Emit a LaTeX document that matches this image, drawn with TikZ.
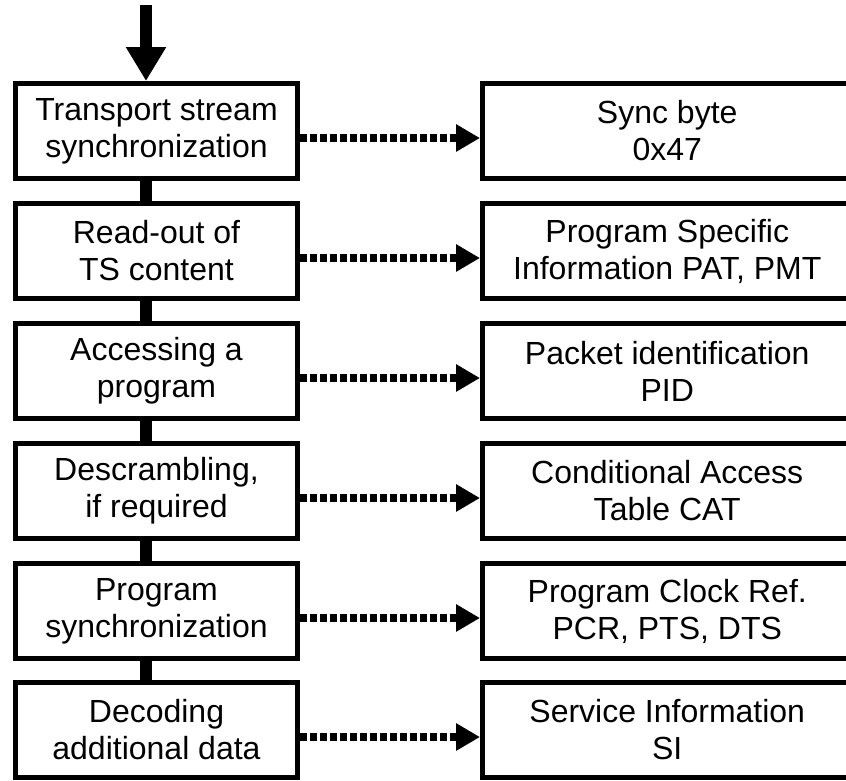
\documentclass[tikz,border=0pt]{standalone}
\usepackage{fontspec}
\setmainfont{Liberation Sans}
\usepackage{tikz}
\usetikzlibrary{
    arrows.meta,
    positioning,
    calc
}

\begin{document}
\begin{tikzpicture}[x=1pt, y=-1pt,
    stepbox/.style={draw, line width=5pt, minimum width=282pt, minimum height=95pt,
        inner sep=0pt, align=center, font=\fontsize{32}{37}\selectfont},
    infobox/.style={stepbox, minimum width=369.5pt},
    flow/.style={line width=12pt},
    link/.style={line width=8pt, dash pattern=on 7pt off 3pt,
        -{Triangle[length=24pt, width=26pt]}}]
                        \useasboundingbox (0, 0) rectangle (846, 780);

                        \node[stepbox] (l1) at (156.5, 131) {Transport stream\\synchronization};
                        \node[stepbox] (l2) at (156.5, 251) {Read-out of\\TS content};
                        \node[stepbox] (l3) at (156.5, 371) {Accessing a\\program};
                        \node[stepbox] (l4) at (156.5, 491) {Descrambling,\\if required};
                        \node[stepbox] (l5) at (156.5, 611) {Program\\synchronization};
                        \node[stepbox] (l6) at (156.5, 730) {Decoding\\additional data};

                        \node[infobox] (r1) at (667.25, 131) {Sync byte\\0x47};
                        \node[infobox] (r2) at (667.25, 251) {Program Specific\\Information PAT, PMT};
                        \node[infobox] (r3) at (667.25, 371) {Packet identification\\PID};
                        \node[infobox] (r4) at (667.25, 491) {Conditional Access\\Table CAT};
                        \node[infobox] (r5) at (667.25, 611) {Program Clock Ref.\\PCR, PTS, DTS};
                        \node[infobox] (r6) at (667.25, 730) {Service Information\\SI};

                        \coordinate (src) at (146, 5);
                        \draw[flow, -{Triangle[length=34pt, width=38pt]}]
                        (src) -- ([xshift=-10.5pt]l1.north);

                        \draw[flow]
                        ([xshift=-10.5pt]l1.south) -- ([xshift=-10.5pt]l2.north)
                        ([xshift=-10.5pt]l2.south) -- ([xshift=-10.5pt]l3.north)
                        ([xshift=-10.5pt]l3.south) -- ([xshift=-10.5pt]l4.north)
                        ([xshift=-10.5pt]l4.south) -- ([xshift=-10.5pt]l5.north)
                        ([xshift=-10.5pt]l5.south) -- ([xshift=-10.5pt]l6.north);

                        \foreach \i in {1,...,6}
                            \draw[link] ([yshift=-7pt]l\i.east) -- ([yshift=-7pt]r\i.west);
                    \end{tikzpicture}
\end{document}
